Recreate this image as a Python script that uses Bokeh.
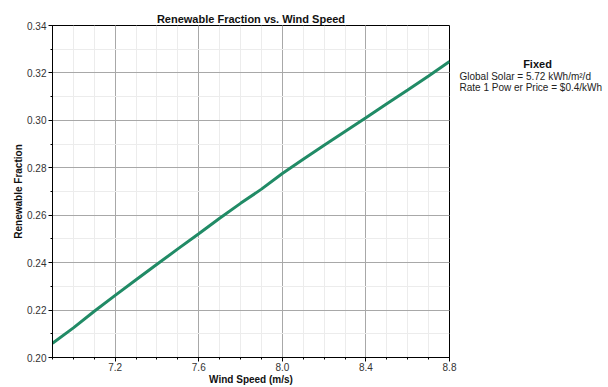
from bokeh.plotting import figure
from bokeh.models import FixedTicker, Range1d, NumeralTickFormatter
from bokeh.layouts import row
from bokeh.core.properties import value
from bokeh.embed import file_html
from bokeh.resources import INLINE

wind_speed = [6.9, 7.0, 7.1, 7.2, 7.3, 7.4, 7.5, 7.6, 7.7, 7.8, 7.9, 8.0, 8.1, 8.2, 8.3, 8.4, 8.5, 8.6, 8.7, 8.8]
renewable_fraction = [0.2060, 0.2125, 0.2195, 0.2262, 0.2328, 0.2393, 0.2458, 0.2522, 0.2587, 0.2650,
                      0.2710, 0.2776, 0.2836, 0.2895, 0.2953, 0.3011, 0.3070, 0.3128, 0.3187, 0.3248]
x_ticks = [7.2, 7.6, 8.0, 8.4, 8.8]
x_minor = [round(6.9 + 0.1 * i, 1) for i in range(20)]
y_ticks = [0.20, 0.22, 0.24, 0.26, 0.28, 0.30, 0.32, 0.34]
y_minor = [round(0.20 + 0.01 * i, 2) for i in range(15)]

title_text = "Renewable Fraction vs. Wind Speed"
x_label = "Wind Speed (m/s)"
y_label = "Renewable Fraction"
side_title = "Fixed"
side_lines = ["Global Solar = 5.72 kWh/m\u00b2/d", "Rate 1 Pow er Price = $0.4/kWh"]

FONT = "Liberation Sans"

p = figure(width=457, height=387, output_backend="svg", toolbar_location=None,
           x_range=Range1d(6.9, 8.8), y_range=Range1d(0.20, 0.34),
           min_border_left=52, min_border_right=8, min_border_top=25, min_border_bottom=25,
           title=title_text)
p.title.align = "center"
p.title.text_font = FONT
p.title.text_font_size = "11px"
p.title.text_font_style = "bold"
p.title.text_color = "#111111"
p.title.standoff = 2
p.title.offset = 0

p.background_fill_color = "white"
p.border_fill_color = "white"
p.outline_line_color = "black"
p.outline_line_width = 1

p.xaxis.ticker = FixedTicker(ticks=x_ticks, minor_ticks=x_minor)
p.yaxis.ticker = FixedTicker(ticks=y_ticks, minor_ticks=y_minor)
p.yaxis.formatter = NumeralTickFormatter(format="0.00")
p.xaxis.formatter = NumeralTickFormatter(format="0.0")
p.xaxis.axis_label = x_label
p.yaxis.axis_label = y_label

for ax in (p.xaxis, p.yaxis):
    ax.axis_line_color = "black"
    ax.major_tick_line_color = "black"
    ax.minor_tick_line_color = "black"
    ax.major_tick_out = 4
    ax.major_tick_in = 0
    ax.minor_tick_out = 2
    ax.minor_tick_in = 0
    ax.major_label_text_font = FONT
    ax.major_label_text_font_size = "10px"
    ax.major_label_text_color = "#333333"
    ax.major_label_standoff = 2
    ax.axis_label_text_font = FONT
    ax.axis_label_text_font_size = "10px"
    ax.axis_label_text_font_style = "bold"
    ax.axis_label_text_color = "#111111"
    ax.axis_label_standoff = 0
p.xaxis.major_label_standoff = 1

p.xgrid.grid_line_color = "#a8a8a8"
p.ygrid.grid_line_color = "#a8a8a8"
p.xgrid.minor_grid_line_color = "#ececec"
p.ygrid.minor_grid_line_color = "#ececec"

p.line(wind_speed, renewable_fraction, line_color="#218b66", line_width=3)

# side panel with the fixed-parameter note
side = figure(width=151, height=387, output_backend="svg", toolbar_location=None, title=None,
              x_range=Range1d(0, 151), y_range=Range1d(387, 0),
              min_border_left=0, min_border_right=0, min_border_top=0, min_border_bottom=0)
side.axis.visible = False
side.grid.visible = False
side.outline_line_color = None
side.background_fill_color = "white"
side.border_fill_color = "white"
side.text(x=[80], y=[45], text=[side_title], text_font=value(FONT), text_font_size="11px",
          text_font_style="bold", text_align="center", text_baseline="middle", text_color="#111111")
side.text(x=[2, 2], y=[59, 72], text=side_lines, text_font=value(FONT), text_font_size="10px",
          text_align="left", text_baseline="middle", text_color="#222222")

layout = row(p, side, spacing=0)
open("out.html", "w").write(file_html(layout, INLINE))
